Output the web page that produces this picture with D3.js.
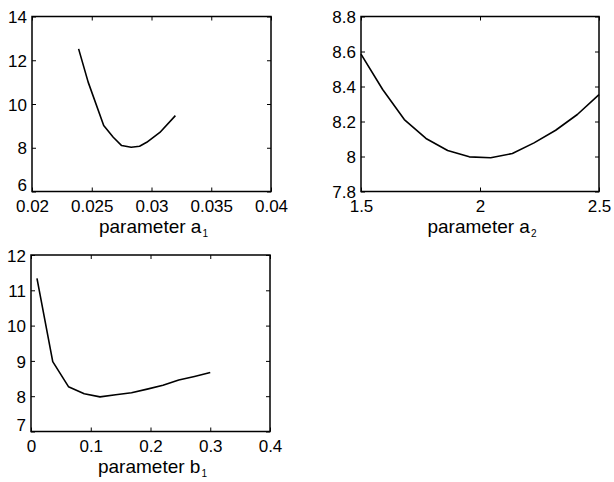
<!DOCTYPE html>
<html>
<head>
<meta charset="utf-8">
<script src="https://cdn.jsdelivr.net/npm/d3@7"></script>
<style>
  html, body { margin: 0; padding: 0; background: #fff; }
  svg { display: block; font-family: "Liberation Sans", Arial, Helvetica, sans-serif; }
</style>
</head>
<body>
<svg id="chart" width="614" height="482"></svg>
<script>
// Error criterion as a function of each model parameter

// parameter a1
const a1Values = [0.0239, 0.0247, 0.0260, 0.0268, 0.0275, 0.0283, 0.0290, 0.0296, 0.0307, 0.0320];
const a1Error  = [12.52, 11.0, 9.02, 8.48, 8.10, 8.02, 8.07, 8.25, 8.70, 9.47];
const a1XTicks = [0.02, 0.025, 0.03, 0.035, 0.04];
const a1XTickLabels = ["0.02", "0.025", "0.03", "0.035", "0.04"];
const a1YTicks = [6, 8, 10, 12, 14];
const a1YTickLabels = ["6", "8", "10", "12", "14"];

// parameter a2
const a2Values = [1.5, 1.591, 1.682, 1.773, 1.864, 1.955, 2.045, 2.136, 2.227, 2.318, 2.409, 2.5];
const a2Error  = [8.585, 8.383, 8.211, 8.103, 8.034, 7.998, 7.993, 8.017, 8.078, 8.150, 8.240, 8.354];
const a2XTicks = [1.5, 2, 2.5];
const a2XTickLabels = ["1.5", "2", "2.5"];
const a2YTicks = [7.8, 8.0, 8.2, 8.4, 8.6, 8.8];
const a2YTickLabels = ["7.8", "8", "8.2", "8.4", "8.6", "8.8"];

// parameter b1
const b1Values = [0.01, 0.0364, 0.0627, 0.0891, 0.1155, 0.1418, 0.1682, 0.1945, 0.2209, 0.2473, 0.2736, 0.3];
const b1Error  = [11.34, 8.98, 8.27, 8.07, 7.98, 8.04, 8.10, 8.20, 8.31, 8.46, 8.56, 8.67];
const b1XTicks = [0, 0.1, 0.2, 0.3, 0.4];
const b1XTickLabels = ["0", "0.1", "0.2", "0.3", "0.4"];
const b1YTicks = [7, 8, 9, 10, 11, 12];
const b1YTickLabels = ["7", "8", "9", "10", "11", "12"];

const svg = d3.select("#chart");
svg.append("rect").attr("width", 614).attr("height", 482).attr("fill", "#fff");

const panels = [
  { box: [32, 16.5, 271, 191.5], x: a1Values, y: a1Error,
    xTicks: a1XTicks, xLabels: a1XTickLabels, yTicks: a1YTicks, yLabels: a1YTickLabels,
    name: "parameter a", sub: "1", liftBottom: true },
  { box: [361, 16.5, 599, 191.5], x: a2Values, y: a2Error,
    xTicks: a2XTicks, xLabels: a2XTickLabels, yTicks: a2YTicks, yLabels: a2YTickLabels,
    name: "parameter a", sub: "2", liftBottom: false },
  { box: [31, 255, 270, 431.5], x: b1Values, y: b1Error,
    xTicks: b1XTicks, xLabels: b1XTickLabels, yTicks: b1YTicks, yLabels: b1YTickLabels,
    name: "parameter b", sub: "1", liftBottom: true }
];

const tickLen = 4;
const fontStack = "Liberation Sans, Arial, sans-serif";

panels.forEach(p => {
  const [x0, y0, x1, y1] = p.box;
  const xs = d3.scaleLinear()
    .domain([p.xTicks[0], p.xTicks[p.xTicks.length - 1]]).range([x0, x1]);
  const ys = d3.scaleLinear()
    .domain([p.yTicks[0], p.yTicks[p.yTicks.length - 1]]).range([y1, y0]);

  const g = svg.append("g");

  const xLabelOf = d3.scaleOrdinal().domain(p.xTicks).range(p.xLabels);
  const yLabelOf = d3.scaleOrdinal().domain(p.yTicks).range(p.yLabels);

  // tick marks pointing inward on all four sides
  const bottom = g.append("g").attr("transform", `translate(0,${y1})`)
    .call(d3.axisBottom(xs).tickValues(p.xTicks).tickSizeInner(-tickLen).tickSizeOuter(0)
      .tickPadding(8).tickFormat(d => xLabelOf(d)));
  const top = g.append("g").attr("transform", `translate(0,${y0})`)
    .call(d3.axisTop(xs).tickValues(p.xTicks).tickSizeInner(-tickLen).tickSizeOuter(0).tickFormat(""));
  const left = g.append("g").attr("transform", `translate(${x0},0)`)
    .call(d3.axisLeft(ys).tickValues(p.yTicks).tickSizeInner(-tickLen).tickSizeOuter(0)
      .tickPadding(5).tickFormat(d => yLabelOf(d)));
  const right = g.append("g").attr("transform", `translate(${x1},0)`)
    .call(d3.axisRight(ys).tickValues(p.yTicks).tickSizeInner(-tickLen).tickSizeOuter(0).tickFormat(""));

  [bottom, top, left, right].forEach(a => {
    a.select(".domain").remove();
    a.selectAll(".tick line").attr("stroke", "#000").attr("stroke-width", 1);
  });

  bottom.selectAll(".tick text")
    .attr("font-family", fontStack)
    .attr("font-size", 17).attr("fill", "#000")
    .attr("y", 20).attr("dy", 0);
  left.selectAll(".tick text")
    .attr("font-family", fontStack)
    .attr("font-size", 17).attr("fill", "#000")
    .attr("dy", (d, i) => (p.liftBottom && i === 0) ? "-0.05em" : "0.36em");

  // frame
  g.append("rect")
    .attr("x", x0).attr("y", y0)
    .attr("width", x1 - x0).attr("height", y1 - y0)
    .attr("fill", "none").attr("stroke", "#000").attr("stroke-width", 1.5);

  // curve
  const pts = p.x.map((v, i) => [v, p.y[i]]);
  g.append("path")
    .datum(pts)
    .attr("fill", "none")
    .attr("stroke", "#000")
    .attr("stroke-width", 1.6)
    .attr("stroke-linejoin", "round")
    .attr("d", d3.line().x(d => xs(d[0])).y(d => ys(d[1])));

  // axis title with subscript
  const t = g.append("text")
    .attr("x", (x0 + x1) / 2 + 2)
    .attr("y", y1 + 41)
    .attr("text-anchor", "middle")
    .attr("font-family", fontStack)
    .attr("font-size", 19)
    .attr("fill", "#000");
  t.append("tspan").text(p.name);
  t.append("tspan").attr("font-size", 10).attr("dy", 4).attr("dx", 1).text(p.sub);
});
</script>
</body>
</html>
